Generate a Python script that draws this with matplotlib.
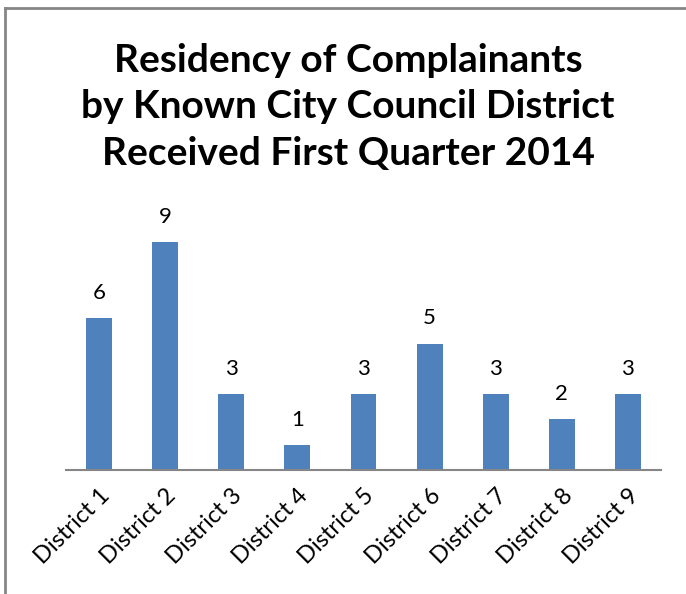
import matplotlib.pyplot as plt
from matplotlib.lines import Line2D

# Data
districts = ["District 1", "District 2", "District 3", "District 4", "District 5",
             "District 6", "District 7", "District 8", "District 9"]
complaints = [6, 9, 3, 1, 3, 5, 3, 2, 3]

title = ("Residency of Complainants\n"
         "by Known City Council District\n"
         "Received First Quarter 2014")

plt.rcParams["font.family"] = ["Lato", "DejaVu Sans"]

fig = plt.figure(figsize=(6.86, 5.94), dpi=100)
ax = fig.add_axes([66 / 686, 1 - 470 / 594, (661 - 66) / 686, 253 / 594])

x = range(len(districts))
bars = ax.bar(x, complaints, width=0.39, color="#4f81bd")
for rect, v in zip(bars, complaints):
    ax.text(rect.get_x() + rect.get_width() / 2, v + 0.6, str(v),
            ha="center", va="bottom", fontsize=16)

ax.set_xlim(-0.5, len(districts) - 0.5)
ax.set_ylim(0, 10)
ax.set_yticks([])
ax.set_xticks(list(x))
ax.set_xticklabels(districts, rotation=45, ha="right", rotation_mode="anchor",
                   fontsize=17)
ax.tick_params(axis="x", length=0, pad=11)
for side in ["top", "right", "left"]:
    ax.spines[side].set_visible(False)
ax.spines["bottom"].set_color("#868686")
ax.spines["bottom"].set_linewidth(1.5)

fig.text(348 / 686, 1 - 107 / 594, title, ha="center", va="center",
         fontsize=28, fontweight="bold", linespacing=1.4)

# chart frame (only top and left edges show)
fig.add_artist(Line2D([5 / 686, 1], [1 - 7.5 / 594] * 2, color="#868686", lw=2))
fig.add_artist(Line2D([5 / 686] * 2, [0, 1 - 7.5 / 594], color="#868686", lw=2))

fig.savefig("out.png", dpi=100)
